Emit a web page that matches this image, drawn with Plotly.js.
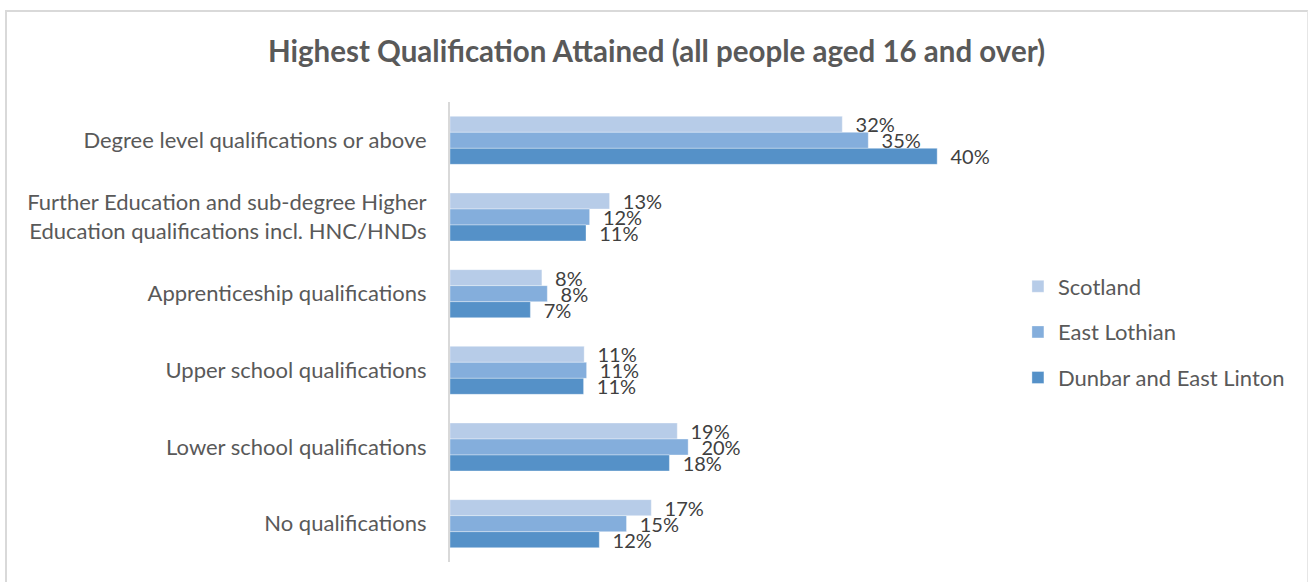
<!DOCTYPE html>
<html>
<head>
<meta charset="utf-8">
<script src="https://cdn.plot.ly/plotly-3.0.1.min.js"></script>
<style>
  html, body { margin: 0; padding: 0; background: #ffffff; }
  #frame { position: absolute; left: 5px; top: 10px; width: 1300px; height: 600px;
           border-left: 2px solid #d9d9d9; border-top: 2px solid #d9d9d9; border-right: 1px solid #e6e6e6; }
  #chart { position: absolute; left: 0; top: 0; width: 1308px; height: 582px; }
</style>
</head>
<body>
<div id="frame"></div>
<div id="chart"></div>
<script>
const categories = [
  "Degree level qualifications or above",
  "Further Education and sub-degree Higher<br>Education qualifications incl. HNC/HNDs",
  "Apprenticeship qualifications",
  "Upper school qualifications",
  "Lower school qualifications",
  "No qualifications"
];
const seriesNames = ["Scotland", "East Lothian", "Dunbar and East Linton"];
const scotland = [32.45, 13.2, 7.6, 11.1, 18.8, 16.65];
const eastLothian = [34.6, 11.55, 8.05, 11.3, 19.7, 14.6];
const dunbar = [40.3, 11.25, 6.65, 11.05, 18.15, 12.35];
const colors = ["#B7CCE8", "#84AEDC", "#5591C8"];

const seriesValues = [scotland, eastLothian, dunbar];
const labelFont = "Lato, 'Open Sans', sans-serif";

const traces = seriesValues.map((vals, i) => ({
  type: "bar",
  orientation: "h",
  name: seriesNames[i],
  legendgroup: "g" + i,
  x: vals,
  y: categories,
  marker: { color: colors[i], line: { color: "rgba(255,255,255,0.35)", width: 1 } },
  texttemplate: "\u00a0\u00a0%{x:.0f}%",
  textposition: "outside",
  constraintext: "none",
  cliponaxis: false,
  textfont: { family: labelFont, size: 20, color: "#404040" },
  hoverinfo: "x+name"
}));

const layout = {
  width: 1308,
  height: 582,
  paper_bgcolor: "rgba(0,0,0,0)",
  plot_bgcolor: "rgba(0,0,0,0)",
  margin: { l: 450, r: 314, t: 102, b: 20, pad: 0 },
  barmode: "group",
  bargap: 0.374,
  bargroupgap: 0,
  title: {
    text: "<b>Highest Qualification Attained (all people aged 16 and over)</b>",
    font: { family: labelFont, size: 29.5, color: "#595959" },
    x: 0.502, xref: "container", xanchor: "center",
    y: 1 - 52 / 582, yref: "container", yanchor: "middle"
  },
  xaxis: { range: [0, 45], visible: false, fixedrange: true },
  yaxis: {
    autorange: "reversed",
    showline: true, linecolor: "#d9d9d9", linewidth: 2,
    showgrid: false, zeroline: false, ticks: "",
    ticklabelstandoff: 17,
    tickfont: { family: labelFont, size: 22, color: "#595959" }
  },
  showlegend: true,
  legend: {
    x: 1.044, xanchor: "left", y: 0.5, yanchor: "middle",
    traceorder: "grouped", tracegroupgap: 14,
    font: { family: labelFont, size: 22, color: "#595959" },
    itemwidth: 30, bgcolor: "rgba(0,0,0,0)"
  }
};

Plotly.newPlot("chart", traces, layout, { displayModeBar: false, staticPlot: true });
</script>
</body>
</html>
